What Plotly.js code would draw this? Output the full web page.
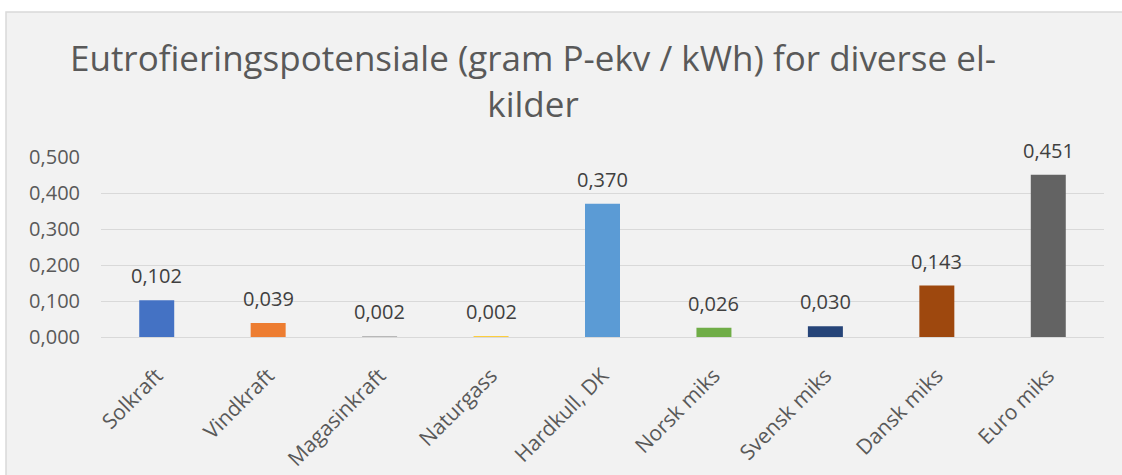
<!DOCTYPE html>
<html>
<head>
<meta charset="utf-8">
<script src="https://cdn.plot.ly/plotly-3.0.1.min.js"></script>
<style>
  html, body { margin: 0; padding: 0; background: #ffffff; }
  #chart { width: 1122px; height: 475px; }
</style>
</head>
<body>
<div id="chart"></div>
<script>
// Eutrophication potential per kWh for various electricity sources
const sources = ["Solkraft", "Vindkraft", "Magasinkraft", "Naturgass", "Hardkull, DK",
                 "Norsk miks", "Svensk miks", "Dansk miks", "Euro miks"];
const potential = [0.102, 0.039, 0.002, 0.002, 0.370, 0.026, 0.030, 0.143, 0.451];
const barColors = ["#4472c4", "#ed7d31", "#a5a5a5", "#ffc000", "#5b9bd5",
                   "#70ad47", "#264478", "#9e480e", "#636363"];
const yTicks = [0, 0.1, 0.2, 0.3, 0.4, 0.5];

const font = "'Open Sans', 'Noto Sans', sans-serif";
const textGrey = "#595959";

// page geometry used to place the framed chart background
const W = 1122, H = 475;
const M = { l: 101, r: 18, t: 157, b: 138 };
const plotW = W - M.l - M.r, plotH = H - M.t - M.b;
const px = x => (x - M.l) / plotW;
const py = y => (H - M.b - y) / plotH;

// Norwegian number style: three decimals, comma separator
const fmt = v => v.toFixed(3).replace(".", ",");

const trace = {
  type: "bar",
  x: sources,
  y: potential,
  marker: { color: barColors },
  hoverinfo: "x+y"
};

// value labels sitting just above each bar
const valueLabels = sources.map((s, i) => ({
  x: s,
  y: potential[i],
  xref: "x",
  yref: "y",
  text: fmt(potential[i]),
  showarrow: false,
  xanchor: "center",
  yanchor: "bottom",
  yshift: 9,
  font: { family: font, size: 20, color: "#404040" }
}));

const layout = {
  width: W,
  height: H,
  margin: M,
  separators: ", ",
  paper_bgcolor: "#ffffff",
  plot_bgcolor: "rgba(0,0,0,0)",
  bargap: 0.686,
  showlegend: false,
  title: {
    text: "Eutrofieringspotensiale (gram P-ekv / kWh) for diverse el-<br>kilder",
    font: { family: font, size: 35, color: textGrey },
    x: 533 / W,
    xref: "container",
    xanchor: "center",
    y: 1 - 71 / H,
    yref: "container",
    yanchor: "middle"
  },
  xaxis: {
    type: "category",
    tickangle: -45,
    tickfont: { family: font, size: 21, color: textGrey },
    showgrid: false,
    showline: true,
    linecolor: "#d9d9d9",
    linewidth: 1,
    ticks: "",
    ticklabelstandoff: 17
  },
  yaxis: {
    range: [0, 0.5],
    tickvals: yTicks,
    tickformat: ".3f",
    tickfont: { family: font, size: 20, color: textGrey },
    showgrid: true,
    gridcolor: "#d9d9d9",
    gridwidth: 1,
    zeroline: false,
    showline: false,
    ticks: "",
    ticklabelstandoff: 20
  },
  annotations: valueLabels,
  shapes: [{
    type: "rect",
    layer: "below",
    xref: "paper",
    yref: "paper",
    x0: px(6), x1: px(W + 10),
    y0: py(H + 10), y1: py(12),
    fillcolor: "#f2f2f2",
    line: { color: "#d9d9d9", width: 1.5 }
  }]
};

Plotly.newPlot("chart", [trace], layout, { displayModeBar: false, staticPlot: true });
</script>
</body>
</html>
